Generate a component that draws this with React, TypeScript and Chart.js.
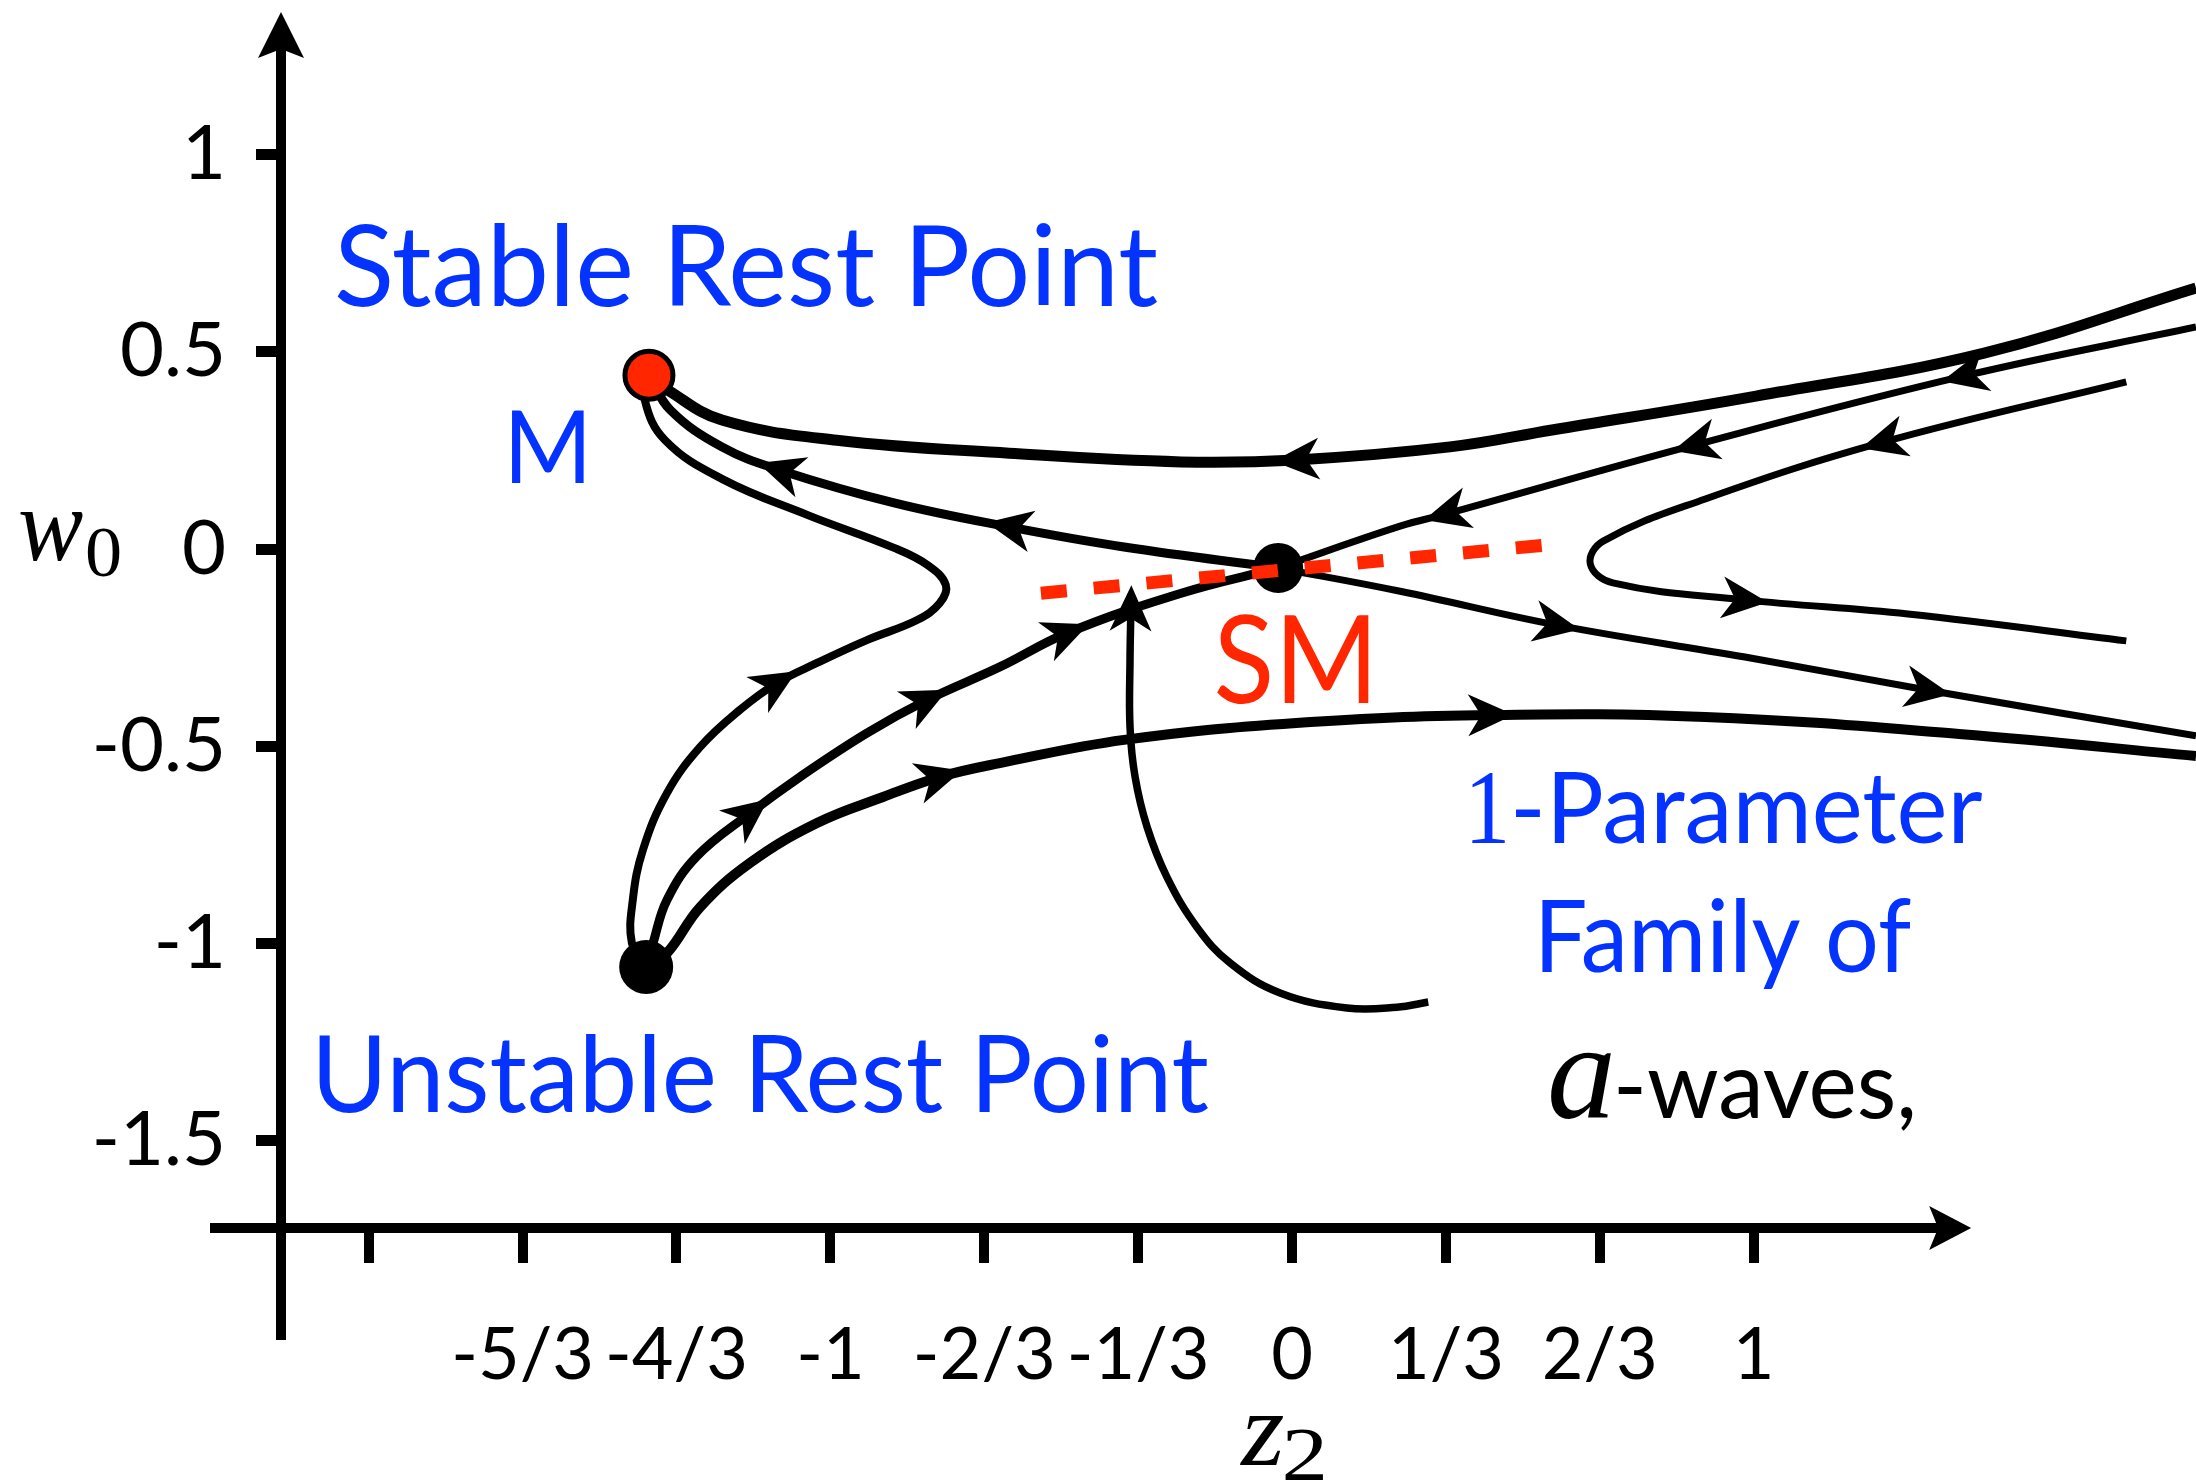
import React, { useEffect, useRef } from "react";
import { Chart, registerables } from "chart.js";

Chart.register(...registerables);

const W = 2196;
const H = 1482;

// ---------- axis ticks ----------
const xTickValues = [-2, -5 / 3, -4 / 3, -1, -2 / 3, -1 / 3, 0, 1 / 3, 2 / 3, 1];
const xTickLabels = ["", "-5/3", "-4/3", "-1", "-2/3", "-1/3", "0", "1/3", "2/3", "1"];
const yTickValues = [-1.5, -1, -0.5, 0, 0.5, 1];
const yTickLabels = ["-1.5", "-1", "-0.5", "0", "0.5", "1"];

const X_MIN = -2.19;
const X_MAX = 1.958;
const Y_MIN = -1.722;
const Y_MAX = 1.362;
const X_AXIS_END = 1.471;

// ---------- rest points ----------
const stableRestPoint = [{ x: -1.393, y: 0.441 }];
const saddlePoint = [{ x: -0.03, y: -0.048 }];
const unstableRestPoint = [{ x: -1.399, y: -1.06 }];

// ---------- red dashed separatrix segment ----------
const dashedSegment = [
  { x: -0.544, y: -0.112 },
  { x: 0.548, y: 0.01 },
];

// ---------- trajectories (listed in flow direction) ----------
const topOrbit: [number, number][] = [
  [1.958, 0.662], [1.499, 0.497], [1.005, 0.388], [0.563, 0.302], [0.342, 0.259],
  [0.009, 0.226], [-0.24, 0.221], [-0.613, 0.243], [-0.986, 0.276], [-1.235, 0.327],
  [-1.352, 0.403], [-1.393, 0.441],
];
const topOrbitArrows = [5];

const saddleToStable: [number, number][] = [
  [-0.03, -0.048], [-0.364, 0.005], [-0.613, 0.056], [-0.862, 0.117], [-1.109, 0.2],
  [-1.235, 0.259], [-1.347, 0.353], [-1.393, 0.441],
];
const saddleToStableArrows = [2, 4];

const saddleOutRight: [number, number][] = [
  [-0.03, -0.048], [0.234, -0.107], [0.574, -0.193], [0.981, -0.274], [1.378, -0.358], [1.958, -0.474],
];
const saddleOutRightArrows = [2, 4];

const unstableToSaddle: [number, number][] = [
  [-1.399, -1.06], [-1.384, -0.999], [-1.354, -0.89], [-1.29, -0.78],
  [-1.174, -0.67], [-1.066, -0.578], [-0.921, -0.467], [-0.791, -0.383], [-0.633, -0.299],
  [-0.487, -0.213], [-0.24, -0.112], [-0.03, -0.048],
];
const unstableToSaddleArrows = [4, 7, 9];

const rightToSaddle: [number, number][] = [
  [1.958, 0.563], [1.456, 0.439], [0.873, 0.264], [0.334, 0.089], [0.234, 0.058], [-0.03, -0.048],
];
const rightToSaddleArrows = [1, 2, 3];

const rightHyperbola: [number, number][] = [
  [1.807, 0.424], [1.28, 0.271], [0.895, 0.127], [0.674, 0.02], [0.646, -0.038],
  [0.695, -0.086], [0.981, -0.129], [1.334, -0.165], [1.807, -0.233],
];
const rightHyperbolaArrows = [1, 6];

const bottomOrbit: [number, number][] = [
  [-1.399, -1.06], [-1.354, -1.025], [-1.282, -0.908], [-1.174, -0.796], [-1.029, -0.695],
  [-0.886, -0.629], [-0.763, -0.578], [-0.633, -0.543], [-0.364, -0.484], [0.009, -0.441],
  [0.431, -0.421], [0.895, -0.426], [1.445, -0.469], [1.958, -0.525],
];
const bottomOrbitArrows = [6, 10];

const loopOrbit: [number, number][] = [
  [-1.399, -1.06], [-1.43, -0.999], [-1.428, -0.89], [-1.406, -0.763], [-1.354, -0.619],
  [-1.282, -0.502], [-1.196, -0.408], [-1.116, -0.34], [-1.029, -0.289], [-0.921, -0.231],
  [-0.812, -0.18], [-0.763, -0.137], [-0.75, -0.091], [-0.789, -0.041], [-0.862, 0.003],
  [-1.049, 0.086], [-1.235, 0.178], [-1.358, 0.276], [-1.402, 0.378], [-1.393, 0.441],
];
const loopOrbitArrows = [7];

const familyCurve: [number, number][] = [
  [0.295, -1.149], [0.227, -1.162], [0.119, -1.164], [-0.026, -1.126], [-0.134, -1.05],
  [-0.206, -0.959], [-0.271, -0.832], [-0.314, -0.705], [-0.34, -0.578], [-0.351, -0.451],
  [-0.351, -0.282], [-0.349, -0.15],
];
const familyCurveArrows = [11];

// ---------- text ----------
const BLUE = "#0433FF";
const RED = "#FF2600";

type Note = { text: string; x: number; y: number; font: string; width?: number; color: string };
const notes: Note[] = [
  { text: "Stable Rest Point", x: -2.069, y: 0.616, font: '112px Lato', width: 821, color: BLUE },
  { text: "M", x: -1.69, y: 0.167, font: '100px Lato', width: 72, color: BLUE },
  { text: "SM", x: -0.162, y: -0.391, font: '123px Lato', width: 151, color: RED },
  { text: "Unstable Rest Point", x: -2.108, y: -1.428, font: '106px Lato', width: 889, color: BLUE },
  { text: "1", x: 0.39, y: -0.746, font: '106px "Liberation Serif"', width: 33, color: BLUE },
  { text: "-Parameter", x: 0.485, y: -0.746, font: '98px Lato', width: 466, color: BLUE },
  { text: "Family of", x: 0.542, y: -1.073, font: '100px Lato', width: 368, color: BLUE },
  { text: "a", x: 0.552, y: -1.443, font: 'italic 138px "Liberation Serif"', color: "#000" },
  { text: "-waves,", x: 0.706, y: -1.443, font: '93px Lato', width: 295, color: "#000" },
];

function drawText(ctx: CanvasRenderingContext2D, text: string, px: number, py: number, font: string, color: string, width?: number) {
  ctx.save();
  ctx.font = font;
  ctx.fillStyle = color;
  ctx.textAlign = "left";
  ctx.textBaseline = "alphabetic";
  let sx = 1;
  if (width) {
    const m = ctx.measureText(text);
    const ink = (m.actualBoundingBoxRight ?? m.width) + (m.actualBoundingBoxLeft ?? 0);
    if (ink > 0) sx = width / ink;
    px += (m.actualBoundingBoxLeft ?? 0) * sx;
  }
  ctx.translate(px, py);
  ctx.scale(sx, 1);
  ctx.fillText(text, 0, 0);
  ctx.restore();
}

function arrowHead(ctx: CanvasRenderingContext2D, cx: number, cy: number, ux: number, uy: number, L: number, Wd: number, notch: number, centered: boolean) {
  const len = Math.hypot(ux, uy) || 1;
  ux /= len; uy /= len;
  const nx = -uy, ny = ux;
  const tipOff = centered ? L / 2 : 0;
  const tx = cx + ux * tipOff, ty = cy + uy * tipOff;
  const bx = tx - ux * L, by = ty - uy * L;
  ctx.beginPath();
  ctx.moveTo(tx, ty);
  ctx.lineTo(bx + nx * Wd / 2, by + ny * Wd / 2);
  ctx.lineTo(bx + ux * notch, by + uy * notch);
  ctx.lineTo(bx - nx * Wd / 2, by - ny * Wd / 2);
  ctx.closePath();
  ctx.fill();
}

const axesPlugin = {
  id: "phaseAxes",
  beforeDatasetsDraw(chart: any) {
    const { ctx, chartArea, scales } = chart;
    const ax = chartArea.left;
    const ay = chartArea.bottom;
    const xEnd = scales.x.getPixelForValue(X_AXIS_END);
    ctx.save();
    ctx.strokeStyle = "#000";
    ctx.fillStyle = "#000";
    ctx.lineWidth = 10;
    ctx.lineCap = "butt";
    ctx.beginPath();
    ctx.moveTo(ax, ay + 112);
    ctx.lineTo(ax, chartArea.top + 30);
    ctx.stroke();
    arrowHead(ctx, ax, chartArea.top, 0, -1, 46, 46, 9, false);
    ctx.beginPath();
    ctx.moveTo(ax - 71, ay);
    ctx.lineTo(xEnd - 30, ay);
    ctx.stroke();
    arrowHead(ctx, xEnd, ay, 1, 0, 42, 44, 9, false);
    ctx.restore();
  },
};

const arrowsPlugin = {
  id: "flowArrows",
  afterDatasetsDraw(chart: any) {
    const { ctx } = chart;
    ctx.save();
    ctx.fillStyle = "#000";
    chart.data.datasets.forEach((ds: any, i: number) => {
      if (!ds.arrowAt) return;
      const pts = chart.getDatasetMeta(i).data;
      ds.arrowAt.forEach((k: number) => {
        const p = pts[k];
        if (!p) return;
        let ux: number, uy: number;
        if (k > 0 && k < pts.length - 1) {
          if (p.cp1x !== undefined && p.cp2x !== undefined && (p.cp2x !== p.cp1x || p.cp2y !== p.cp1y)) {
            ux = p.cp2x - p.cp1x; uy = p.cp2y - p.cp1y;
          } else {
            ux = pts[k + 1].x - pts[k - 1].x; uy = pts[k + 1].y - pts[k - 1].y;
          }
        } else if (k === 0) {
          ux = pts[1].x - p.x; uy = pts[1].y - p.y;
        } else {
          ux = p.x - pts[k - 1].x; uy = p.y - pts[k - 1].y;
        }
        arrowHead(ctx, p.x, p.y, ux, uy, 46, 42, 13, true);
      });
    });
    ctx.restore();
  },
};

const textPlugin = {
  id: "phaseText",
  afterDraw(chart: any) {
    const { ctx, scales, chartArea } = chart;
    const xs = scales.x, ys = scales.y;
    notes.forEach((n) => {
      drawText(ctx, n.text, xs.getPixelForValue(n.x), ys.getPixelForValue(n.y), n.font, n.color, n.width);
    });
    // axis titles: w_0 and z_2
    const y0 = ys.getPixelForValue(0);
    const wx = chartArea.left - 261;
    drawText(ctx, "w", wx, y0 + 11, 'italic 104px "Liberation Serif"', "#000", 63);
    drawText(ctx, "0", wx + 67, y0 + 27, '72px "Liberation Serif"', "#000", 33);
    const zx = xs.getPixelForValue(0) - 53;
    const zb = chartArea.bottom + 237;
    drawText(ctx, "z", zx, zb, 'italic 106px "Liberation Serif"', "#000", 44);
    drawText(ctx, "2", zx + 46, zb + 15, '76px "Liberation Serif"', "#000", 38);
  },
};

function curve(points: [number, number][], arrows: number[], width: number) {
  return {
    data: points.map(([x, y]) => ({ x, y })),
    showLine: true,
    borderColor: "#000",
    borderWidth: width,
    tension: 0.4,
    pointRadius: 0,
    pointHoverRadius: 0,
    fill: false,
    clip: false,
    borderCapStyle: "butt",
    borderJoinStyle: "round",
    arrowAt: arrows,
  } as any;
}

const zeroPad = (s: any) => {
  s.paddingTop = 0;
  s.paddingBottom = 0;
  s.paddingLeft = 0;
  s.paddingRight = 0;
};

export default function App() {
  const ref = useRef<HTMLCanvasElement>(null);
  useEffect(() => {
    const canvas = ref.current;
    if (!canvas) return;
    const datasets: any[] = [
      {
        data: dashedSegment,
        showLine: true,
        borderColor: RED,
        borderWidth: 13,
        borderDash: [26, 27],
        borderCapStyle: "butt",
        tension: 0,
        pointRadius: 0,
        clip: false,
      },
      {
        data: stableRestPoint,
        pointRadius: 24,
        pointBorderWidth: 5,
        pointBackgroundColor: RED,
        pointBorderColor: "#000",
        clip: false,
      },
      {
        data: saddlePoint,
        pointRadius: 25,
        pointBorderWidth: 0,
        pointBackgroundColor: "#000",
        pointBorderColor: "#000",
        clip: false,
      },
      {
        data: unstableRestPoint,
        pointRadius: 27,
        pointBorderWidth: 0,
        pointBackgroundColor: "#000",
        pointBorderColor: "#000",
        clip: false,
      },
      curve(topOrbit, topOrbitArrows, 11),
      curve(saddleToStable, saddleToStableArrows, 9),
      curve(saddleOutRight, saddleOutRightArrows, 7),
      curve(unstableToSaddle, unstableToSaddleArrows, 9),
      curve(rightToSaddle, rightToSaddleArrows, 7),
      curve(rightHyperbola, rightHyperbolaArrows, 7),
      curve(bottomOrbit, bottomOrbitArrows, 10),
      curve(loopOrbit, loopOrbitArrows, 8),
      curve(familyCurve, familyCurveArrows, 7.5),
    ];
    const chart = new Chart(canvas, {
      type: "scatter",
      data: { datasets },
      options: {
        animation: false,
        responsive: false,
        devicePixelRatio: 1,
        events: [],
        layout: { autoPadding: false, padding: { top: 12, left: 0, right: 0, bottom: 0 } },
        plugins: { legend: { display: false }, tooltip: { enabled: false } },
        scales: {
          x: {
            type: "linear",
            position: "bottom",
            min: X_MIN,
            max: X_MAX,
            border: { display: false },
            grid: {
              display: true,
              drawOnChartArea: false,
              drawTicks: true,
              tickLength: 35,
              tickWidth: 10,
              tickColor: "#000",
              color: "#000",
              lineWidth: 10,
            },
            ticks: {
              autoSkip: false,
              maxRotation: 0,
              minRotation: 0,
              padding: 50,
              color: "#000",
              font: { family: "Lato", size: 72 },
              callback: (_v: any, i: number) => xTickLabels[i] ?? "",
            },
            afterBuildTicks: (s: any) => {
              s.ticks = xTickValues.map((v) => ({ value: v }));
            },
            afterFit: (s: any) => {
              s.height = H - 1228;
              zeroPad(s);
            },
          },
          y: {
            type: "linear",
            position: "left",
            min: Y_MIN,
            max: Y_MAX,
            border: { display: false },
            grid: {
              display: true,
              drawOnChartArea: false,
              drawTicks: true,
              tickLength: 25,
              tickWidth: 11,
              tickColor: "#000",
              color: "#000",
              lineWidth: 11,
            },
            ticks: {
              autoSkip: false,
              padding: 30,
              color: "#000",
              font: { family: "Lato", size: 76 },
              callback: (_v: any, i: number) => yTickLabels[i] ?? "",
            },
            afterBuildTicks: (s: any) => {
              s.ticks = yTickValues.map((v) => ({ value: v }));
            },
            afterFit: (s: any) => {
              s.width = 281;
              zeroPad(s);
            },
          },
        },
      } as any,
      plugins: [axesPlugin, arrowsPlugin, textPlugin],
    });
    let alive = true;
    const fonts: any = (document as any).fonts;
    if (fonts && fonts.ready) {
      fonts.ready.then(() => {
        if (alive) chart.update("none");
      });
    }
    return () => {
      alive = false;
      chart.destroy();
    };
  }, []);
  return (
    <div style={{ position: "fixed", left: 0, top: 0, width: W, height: H, background: "#fff" }}>
      <canvas ref={ref} width={W} height={H} style={{ display: "block", width: W, height: H }} />
    </div>
  );
}
